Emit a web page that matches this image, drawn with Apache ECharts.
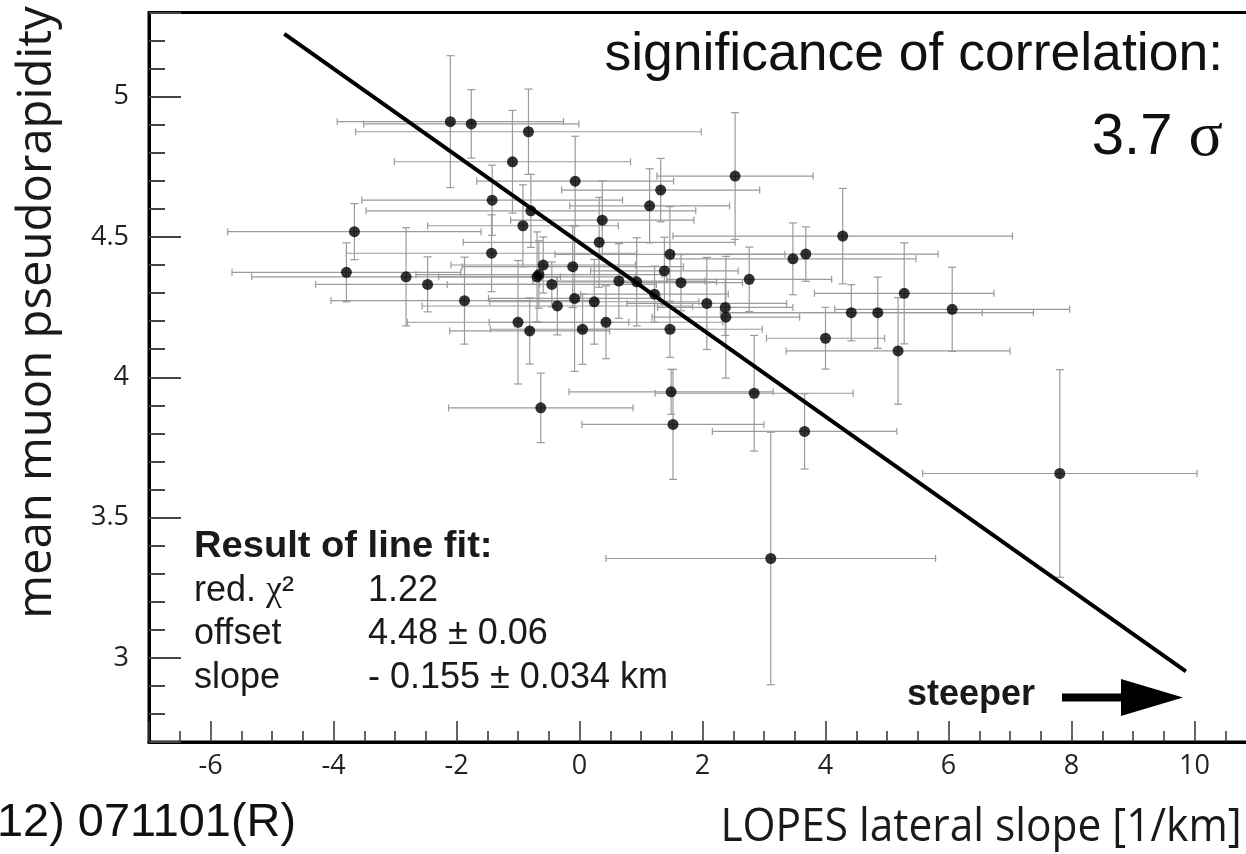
<!DOCTYPE html>
<html>
<head>
<meta charset="utf-8">
<script src="https://cdn.jsdelivr.net/npm/echarts@6/dist/echarts.min.js"></script>
<style>
  html, body { margin: 0; padding: 0; background: #fff; }
  #chart { width: 1246px; height: 854px; }
</style>
</head>
<body>
<div id="chart"></div>
<script>
// LOPES lateral slope of the radio footprint vs. mean muon pseudorapidity (per event)
const slopeX = [-3.66, -3.79, -2.82, -2.47, -1.87, -2.10, -1.76, -0.83, -1.09, -0.07,
                -1.42, -0.79, -0.92, 1.32, 1.14, 0.37, 0.32, -1.43, 1.47, -0.59,
                -0.11, 1.38, -0.69, -0.66, -0.45, -0.08, 0.24, -0.36, -1.00, -0.81,
                0.05, 0.43, 0.64, 0.93, 1.22, 1.65, 1.47, -0.63, 1.49, 1.52,
                2.53, 4.28, 3.47, 3.68, 2.76, 5.28, 4.42, 4.85, 6.06, 4.00,
                5.18, 2.07, 2.37, 2.38, 2.84, 3.66, 7.81, 3.11];
const etaY   = [4.519, 4.374, 4.358, 4.331, 4.273, 4.911, 4.903, 4.875, 4.768, 4.699,
                4.631, 4.593, 4.540, 4.667, 4.611, 4.560, 4.481, 4.442, 4.438, 4.400,
                4.394, 4.379, 4.358, 4.366, 4.331, 4.281, 4.269, 4.254, 4.196, 4.165,
                4.171, 4.196, 4.343, 4.340, 4.296, 4.337, 4.171, 3.891, 3.948, 3.832,
                4.717, 4.503, 4.422, 4.439, 4.349, 4.299, 4.230, 4.230, 4.242, 4.139,
                4.094, 4.263, 4.249, 4.214, 3.943, 3.807, 3.657, 3.354];
const slopeErr = [2.06, 1.86, 2.51, 1.82, 2.17, 1.84, 1.75, 2.81, 1.92, 1.60,
                  2.12, 2.68, 1.55, 1.61, 1.30, 1.49, 2.21, 2.36, 1.87, 1.50,
                  1.80, 1.20, 1.60, 2.00, 1.70, 1.40, 1.70, 2.20, 1.80, 1.30,
                  1.50, 1.90, 1.40, 1.30, 1.20, 1.00, 1.50, 1.50, 1.66, 1.48,
                  1.27, 2.76, 2.00, 2.15, 1.34, 1.46, 2.13, 2.53, 1.91, 0.96,
                  1.82, 1.30, 1.10, 1.20, 1.61, 1.50, 2.23, 2.68];
const etaErr   = [0.100, 0.105, 0.175, 0.098, 0.155, 0.235, 0.122, 0.152, 0.183, 0.160,
                  0.125, 0.130, 0.146, 0.113, 0.132, 0.140, 0.160, 0.137, 0.170, 0.100,
                  0.146, 0.120, 0.160, 0.120, 0.080, 0.260, 0.151, 0.103, 0.220, 0.118,
                  0.125, 0.130, 0.133, 0.157, 0.100, 0.100, 0.100, 0.124, 0.080, 0.196,
                  0.226, 0.170, 0.128, 0.097, 0.115, 0.180, 0.100, 0.127, 0.150, 0.110,
                  0.190, 0.164, 0.100, 0.217, 0.206, 0.134, 0.370, 0.450];

// straight-line fit: eta = offset + slope * x
const fitOffset = 4.48;
const fitSlope = -0.155;
const fitXRange = [-4.8, 9.86];

const xTickLabels = [-6, -4, -2, 0, 2, 4, 6, 8, 10];
const yTickLabels = [3, 3.5, 4, 4.5, 5];

const points = slopeX.map((x, i) => [x, etaY[i], slopeErr[i], etaErr[i]]);
const fitLine = fitXRange.map(x => [x, fitOffset + fitSlope * x]);

const SANS = '"Liberation Sans", Arial, sans-serif';
const SERIF = '"Liberation Serif", "Times New Roman", serif';
const AXISFONT = '"Open Sans", "DejaVu Sans", sans-serif';
const INK = '#111';
const BOXINK = '#1a1a1a';

function hasTick(list, v) {
  return list.some(t => Math.abs(t - v) < 1e-6);
}

function renderErrorBar(params, api) {
  const x = api.value(0), y = api.value(1), ex = api.value(2), ey = api.value(3);
  const l = api.coord([x - ex, y]);
  const r = api.coord([x + ex, y]);
  const t = api.coord([x, y + ey]);
  const b = api.coord([x, y - ey]);
  const cap = 3.5;
  const style = { stroke: '#9a9a9a', lineWidth: 1.2, fill: null };
  const seg = (x1, y1, x2, y2) => ({ type: 'line', shape: { x1, y1, x2, y2 }, style });
  return {
    type: 'group',
    children: [
      seg(l[0], l[1], r[0], r[1]),
      seg(l[0], l[1] - cap, l[0], l[1] + cap),
      seg(r[0], r[1] - cap, r[0], r[1] + cap),
      seg(t[0], t[1], b[0], b[1]),
      seg(t[0] - 4, t[1], t[0] + 4, t[1]),
      seg(b[0] - 4, b[1], b[0] + 4, b[1])
    ]
  };
}

function label(x, y, text, size, opts) {
  const o = opts || {};
  return {
    type: 'text', x, y, scaleX: o.scaleX || 1, rotation: o.rotation || 0,
    style: {
      text, fontSize: size, fontFamily: o.font || SANS, fontWeight: o.weight || 'normal',
      fill: o.fill || BOXINK, rich: o.rich,
      align: o.align || 'left', verticalAlign: 'middle',
      textAlign: o.align || 'left', textVerticalAlign: 'middle'
    }
  };
}

const chart = echarts.init(document.getElementById('chart'), null, { renderer: 'canvas' });

chart.setOption({
  animation: false,
  backgroundColor: '#fff',
  grid: {
    left: 149, top: 12.5, width: 1107, height: 729.5,
    containLabel: false, outerBoundsMode: 'none',
    show: true, borderColor: '#000', borderWidth: 3, backgroundColor: 'transparent'
  },
  xAxis: {
    type: 'value', min: -7, max: 11,
    splitNumber: 9, minInterval: 2, maxInterval: 2,
    axisLine: { show: true, onZero: false, lineStyle: { color: '#000', width: 3 } },
    axisTick: { show: true, inside: true, length: 21, lineStyle: { color: '#333', width: 1.5 } },
    minorTick: { show: true, splitNumber: 4, length: 11, lineStyle: { color: '#333', width: 1.5 } },
    axisLabel: {
      margin: 11, fontSize: 27, fontFamily: AXISFONT, color: '#222',
      formatter: v => hasTick(xTickLabels, v) ? String(Math.round(v)) : ''
    },
    splitLine: { show: false }
  },
  yAxis: {
    type: 'value', min: 2.7, max: 5.3,
    splitNumber: 5, minInterval: 0.5, maxInterval: 0.5,
    axisLine: { show: true, onZero: false, lineStyle: { color: '#000', width: 3 } },
    axisTick: { show: true, inside: true, length: 32, lineStyle: { color: '#444', width: 2 } },
    minorTick: { show: true, splitNumber: 5, length: 16, lineStyle: { color: '#444', width: 2 } },
    axisLabel: {
      margin: 20, fontSize: 27, fontFamily: AXISFONT, color: '#222',
      formatter: v => hasTick(yTickLabels, v) ? String(+v.toFixed(1)) : ''
    },
    splitLine: { show: false }
  },
  series: [
    {
      name: 'errors', type: 'custom', renderItem: renderErrorBar,
      data: points, z: 2, silent: true
    },
    {
      name: 'fit', type: 'line', data: fitLine, showSymbol: false, symbol: 'none',
      lineStyle: { color: '#000', width: 4 }, z: 3, silent: true
    },
    {
      name: 'events', type: 'scatter', data: points.map(p => [p[0], p[1]]),
      symbol: 'circle', symbolSize: 11, itemStyle: { color: '#000' }, z: 4, silent: true
    }
  ],
  graphic: [
    // axis titles
    label(37, 312.5, 'mean muon pseudorapidity', 48,
          { font: AXISFONT, align: 'center', rotation: Math.PI / 2, scaleX: 0.985 }),
    label(981, 828, 'LOPES lateral slope [1/km]', 46,
          { font: AXISFONT, align: 'center', scaleX: 0.923 }),
    label(-3, 823, '12) 071101(R)', 46, { fill: INK, scaleX: 1.02 }),

    // significance annotation
    label(1223, 55, 'significance of correlation:', 53.5, { fill: INK, align: 'right' }),
    label(1223, 138, '{n|3.7 }{s|σ}', 58, {
      align: 'right',
      rich: {
        n: { fontSize: 58, fontFamily: SANS, fill: INK, color: INK },
        s: { fontSize: 64, fontFamily: SERIF, fill: INK, color: INK }
      }
    }),

    // line fit result box
    label(194, 547, 'Result of line fit:', 37, { weight: 'bold', scaleX: 1.03 }),
    label(194, 591, '{a|red. }{c|χ}{a|²}', 36, {
      rich: {
        a: { fontSize: 36, fontFamily: SANS, fill: BOXINK, color: BOXINK },
        c: { fontSize: 36, fontFamily: SERIF, fill: BOXINK, color: BOXINK }
      }
    }),
    label(194, 634, 'offset', 36),
    label(194, 678, 'slope', 36),
    label(368, 591, '1.22', 36),
    label(368, 634, fitOffset.toFixed(2) + ' ± 0.06', 36),
    label(368, 678, '- ' + Math.abs(fitSlope).toFixed(3) + ' ± 0.034 km', 36),

    // "steeper" arrow
    label(907, 695, 'steeper', 36, { weight: 'bold' }),
    { type: 'rect', shape: { x: 1062, y: 693.5, width: 62, height: 8 }, style: { fill: '#000' } },
    { type: 'polygon', shape: { points: [[1121, 679], [1183, 697.5], [1121, 716]] }, style: { fill: '#000' } }
  ]
});
</script>
</body>
</html>
